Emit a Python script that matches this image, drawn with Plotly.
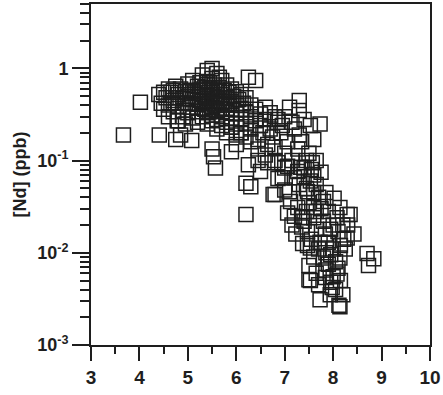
import numpy as np
import plotly.graph_objects as go

# Main cluster
core_x = [4.40,4.45,4.50,4.50,4.55,4.60,4.60,4.60,4.65,4.70,4.70,4.70,4.75,4.80,4.80,4.80,4.85,4.90,4.90,4.90,
          4.95,5.00,5.00,5.00,5.00,5.05,5.10,5.10,5.10,5.10,5.15,5.20,5.20,5.20,5.20,5.20,5.25,5.30,5.30,5.30,
          5.30,5.30,5.35,5.40,5.40,5.40,5.40,5.40,5.40,5.45,5.50,5.50,5.50,5.50,5.50,5.50,5.50,5.55,5.60,5.60,
          5.60,5.60,5.60,5.60,5.60,5.65,5.70,5.70,5.70,5.70,5.70,5.70,5.75,5.80,5.80,5.80,5.80,5.80,5.80,5.85,
          5.90,5.90,5.90,5.90,5.90,5.95,6.00,6.00,6.00,6.00,6.00,6.05,6.10,6.10,6.10,6.10,6.15,6.20,6.20,6.20,
          6.25,6.30,6.30,6.30,6.40,6.40,6.40,6.50,6.50,6.60,6.60,6.70,6.70,6.80,6.85,
          5.25,5.35,5.45,5.55,5.65,5.75,5.35,5.45,5.55,5.65,5.15,5.05,4.95,5.45,5.65,5.40,5.25,5.75,5.85,4.75,
          4.65,5.60,5.50,5.30,5.10]
core_y = [0.52,0.42,0.55,0.36,0.48,0.60,0.40,0.30,0.55,0.58,0.45,0.34,0.64,0.52,0.39,0.27,0.60,0.47,0.35,0.30,
          0.56,0.68,0.50,0.42,0.33,0.58,0.74,0.46,0.38,0.29,0.54,0.64,0.49,0.41,0.34,0.26,0.58,0.85,0.52,0.44,
          0.37,0.30,0.62,0.72,0.55,0.47,0.40,0.33,0.25,0.60,1.00,0.78,0.52,0.45,0.38,0.31,0.27,0.66,0.88,0.57,
          0.48,0.42,0.35,0.28,0.22,0.62,0.74,0.52,0.44,0.37,0.30,0.24,0.58,0.66,0.48,0.40,0.33,0.26,0.20,0.55,
          0.60,0.44,0.36,0.29,0.23,0.50,0.56,0.40,0.32,0.25,0.19,0.46,0.52,0.36,0.28,0.20,0.42,0.48,0.33,0.25,
          0.80,0.40,0.30,0.22,0.74,0.36,0.27,0.32,0.24,0.38,0.28,0.33,0.22,0.30,0.26,
          0.45,0.50,0.42,0.50,0.45,0.40,0.36,0.34,0.40,0.36,0.42,0.38,0.42,0.70,0.80,0.95,0.70,0.48,0.42,0.48,
          0.42,0.60,0.58,0.58,0.56]

# Isolated low-x points
left_x = [3.67,4.02,4.41,4.75,4.85,5.08,4.78,4.95]
left_y = [0.19,0.43,0.19,0.17,0.19,0.165,0.27,0.25]

# Branch toward higher x at 0.1-0.5 ppb
branch_x = [7.10,7.30,7.30,7.53,7.73,7.30,6.86,6.92,7.00,7.15,7.40,7.20,6.95,6.10,5.90,5.50,5.90,6.45,6.60,6.80,
            7.00,7.27,7.50,6.65,6.45,6.30,6.20,6.55,6.75,7.05,7.35,7.60,6.00]
branch_y = [0.38,0.45,0.35,0.24,0.25,0.19,0.28,0.20,0.30,0.26,0.28,0.22,0.24,0.20,0.23,0.134,0.125,0.134,0.115,0.14,
            0.12,0.134,0.12,0.15,0.17,0.16,0.18,0.20,0.18,0.16,0.16,0.17,0.15]

# Intermediate points
mid_x = [5.53,5.57,6.25,6.20,6.30,6.80,6.20,6.45,6.80,7.00,7.27,6.50,6.65,6.86,6.86,6.76]
mid_y = [0.11,0.083,0.09,0.057,0.052,0.043,0.026,0.10,0.10,0.083,0.076,0.076,0.095,0.095,0.064,0.043]

# Descending band
band_x = [7.06,7.33,7.57,7.40,7.60,7.40,7.53,7.00,7.10,7.30,7.47,7.80,8.02,7.12,7.27,7.60,8.14,8.29,7.06,7.20,
          7.37,7.60,7.80,8.08,8.35,7.40,7.23,7.47,7.84,8.22,8.43,7.47,7.73,8.29,7.37,7.53,7.80,8.14,7.50,7.53,
          7.84,8.08,7.73,8.14,7.98,7.94,7.50,8.12,
          7.55,7.65,7.45,7.60,7.70,7.50,7.65,7.75,7.90,8.00,7.95,8.10,7.90,8.00,7.85,7.95,8.05,7.90,8.10,7.85,
          8.00,8.15,7.95,8.05,8.20,7.70,7.65,7.60,7.70,7.55,7.65,7.35,7.15,7.45,8.20,8.25,8.15,7.75,7.65,7.45,
          7.20,7.15,6.95,8.30,7.85]
band_y = [0.087,0.085,0.095,0.083,0.070,0.067,0.060,0.048,0.046,0.055,0.046,0.036,0.039,0.036,0.031,0.031,0.031,0.026,0.027,0.025,
          0.024,0.024,0.022,0.024,0.026,0.022,0.016,0.017,0.016,0.014,0.016,0.012,0.013,0.0145,0.0126,0.0113,0.0088,0.0088,0.0073,0.0050,
          0.0054,0.0059,0.0031,0.0026,0.0042,0.0035,0.0051,0.0027,
          0.080,0.055,0.050,0.045,0.040,0.035,0.028,0.030,0.028,0.020,0.018,0.017,0.013,0.011,0.010,0.0095,0.0080,0.0075,0.0068,0.0065,
          0.0055,0.0050,0.0048,0.0040,0.0035,0.0045,0.0060,0.0090,0.011,0.014,0.018,0.019,0.020,0.028,0.020,0.011,0.012,0.075,0.10,0.10,
          0.065,0.10,0.065,0.020,0.045]

# Isolated high-x points
right_x = [8.70,8.84,8.73]
right_y = [0.0098,0.0086,0.0073]

x_vals = core_x + left_x + branch_x + mid_x + band_x + right_x
y_vals = core_y + left_y + branch_y + mid_y + band_y + right_y

y_tickvals = [0.001, 0.01, 0.1, 1]
y_ticktext = ["10<sup>-3</sup>", "10<sup>-2</sup>", "10<sup>-1</sup>", "1"]
x_tickvals = [3, 4, 5, 6, 7, 8, 9, 10]

ink = "#1e1e1e"
fnt = "Liberation Sans, Arial, sans-serif"

fig = go.Figure()
fig.add_trace(go.Scatter(
    x=x_vals, y=y_vals, mode="markers",
    marker=dict(symbol="square-open", size=14, color=ink, line=dict(width=1.5, color=ink)),
    showlegend=False,
))

fig.update_layout(
    width=443, height=395,
    margin=dict(l=91, r=9, t=2, b=50),
    plot_bgcolor="white", paper_bgcolor="white",
    font=dict(family=fnt, color=ink),
)
fig.update_xaxes(
    range=[3, 10], tickvals=x_tickvals, ticks="outside", ticklen=14, tickwidth=2,
    tickcolor=ink, showline=True, linewidth=2, linecolor=ink, mirror=True,
    showgrid=False, zeroline=False, ticklabeloverflow="allow",
    tickfont=dict(family=fnt, size=19, weight="bold", color=ink),
    minor=dict(ticks="outside", dtick=0.5, ticklen=7, tickwidth=2, tickcolor=ink, showgrid=False),
)
fig.update_yaxes(
    type="log", range=[-3, np.log10(5)], tickvals=y_tickvals, ticktext=y_ticktext,
    ticks="outside", ticklen=17, tickwidth=2, tickcolor=ink,
    showline=True, linewidth=2, linecolor=ink, mirror=True,
    showgrid=False, zeroline=False,
    tickfont=dict(family=fnt, size=18, weight="bold", color=ink),
    minor=dict(ticks="outside", dtick="D1", ticklen=9, tickwidth=1.5, tickcolor=ink, showgrid=False),
    title=dict(text="[Nd] (ppb)", font=dict(family=fnt, size=18, weight="bold", color=ink), standoff=6),
)

fig.write_html("out.html")
